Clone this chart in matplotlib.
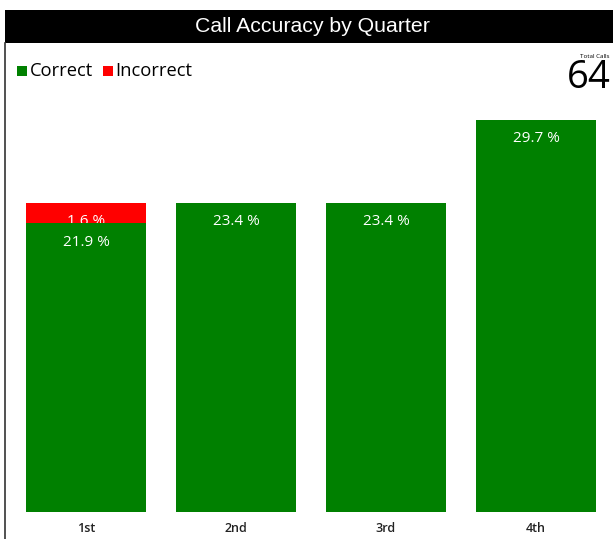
import matplotlib.pyplot as plt
from matplotlib.patches import Rectangle

quarters = ["1st", "2nd", "3rd", "4th"]
correct = [14, 15, 15, 19]
incorrect = [1, 0, 0, 0]
total_calls = 64

GREEN = "#008000"
RED = "#ff0000"
W, H = 613, 539


def fx(px):
    return px / W


def fy(py):
    # pixel from top -> figure fraction from bottom
    return 1 - py / H


fig = plt.figure(figsize=(W / 100, H / 100), dpi=100)
fig.patch.set_facecolor("white")

# header band and left border
fig.add_artist(Rectangle((fx(5), fy(43)), 1, fy(10) - fy(43), transform=fig.transFigure,
                         facecolor="black", edgecolor="none"))
fig.add_artist(plt.Line2D([fx(5.5), fx(5.5)], [0, fy(43)], transform=fig.transFigure,
                          color="#333333", linewidth=1.2))
fig.text(fx(312), fy(27), "Call Accuracy by Quarter", color="white", ha="center", va="center",
         fontsize=15.3, family="Liberation Sans")

# legend
fig.add_artist(Rectangle((fx(17), fy(76)), fx(10), fy(66) - fy(76), transform=fig.transFigure,
                         facecolor=GREEN, edgecolor="none"))
fig.text(fx(30), fy(71), "Correct", ha="left", va="center", fontsize=13.2, family="Open Sans")
fig.add_artist(Rectangle((fx(103), fy(76)), fx(10), fy(66) - fy(76), transform=fig.transFigure,
                         facecolor=RED, edgecolor="none"))
fig.text(fx(115), fy(71), "Incorrect", ha="left", va="center", fontsize=13.2, family="Open Sans")

# total calls card
fig.text(fx(609), fy(56), "Total Calls", ha="right", va="center", fontsize=4.5, family="Open Sans")
fig.text(fx(611), fy(78), str(total_calls), ha="right", va="center", fontsize=27.5, family="Open Sans")

# bars
top_px, bottom_px = 100, 512
ax = fig.add_axes([fx(11), fy(bottom_px), fx(600), (bottom_px - top_px) / H])
px_per_count = (512 - 120) / 19
ax.set_ylim(0, (bottom_px - top_px) / px_per_count)
ax.set_xlim(-0.5, 3.5)

x = list(range(len(quarters)))
ax.bar(x, incorrect, 0.8, bottom=correct, color=RED, zorder=1)
ax.bar(x, correct, 0.8, color=GREEN, zorder=3)

for i in x:
    if incorrect[i] > 0:
        ax.annotate(f"{incorrect[i] / total_calls * 100:.1f} %", (i, correct[i] + incorrect[i]),
                    xytext=(0, -19), textcoords="offset pixels", ha="center", va="center",
                    color="white", fontsize=11, family="Open Sans", zorder=2)
    ax.annotate(f"{correct[i] / total_calls * 100:.1f} %", (i, correct[i]),
                xytext=(0, -19), textcoords="offset pixels", ha="center", va="center",
                color="white", fontsize=11, family="Open Sans", zorder=4)

ax.set_xticks(x)
ax.set_xticklabels(quarters, fontsize=9, family="Open Sans", fontweight="semibold", color="#222222")
ax.tick_params(axis="x", length=0, pad=7)
ax.set_yticks([])
for s in ax.spines.values():
    s.set_visible(False)

fig.savefig("out.png", dpi=100)
